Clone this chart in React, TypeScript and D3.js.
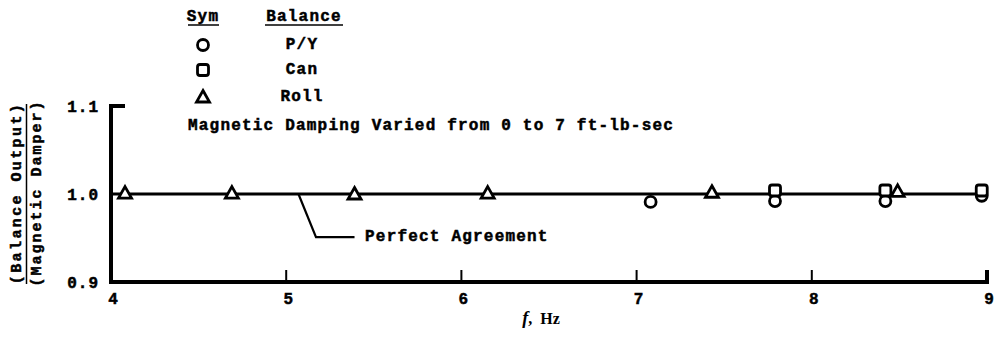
import React from "react";
import * as d3 from "d3";

const xTicks = [4, 5, 6, 7, 8, 9];
const yTicks = [0.9, 1.0, 1.1];
const yTickLabels = ["0.9", "1.0", "1.1"];

// Roll (triangles)
const rollF = [4.08, 4.69, 5.39, 6.15, 7.43, 8.49];
const rollR = [1.001, 1.001, 1.0, 1.001, 1.002, 1.003];
// P/Y (circles)
const pyF = [7.08, 7.79, 8.42, 8.97];
const pyR = [0.991, 0.992, 0.992, 0.998];
// Can (squares)
const canF = [7.79, 8.42, 8.97];
const canR = [1.004, 1.004, 1.004];

const legendSyms = ["circle", "square", "triangle"];
const legendNames = ["P/Y", "Can", "Roll"];

const W = 999;
const H = 337;
const FONT = "'Liberation Mono', 'DejaVu Sans Mono', monospace";

function Marker({ type, cx, cy }: { type: string; cx: number; cy: number }) {
  const common = { fill: "#fff", stroke: "#000", strokeWidth: 2.8 };
  if (type === "circle") return <circle cx={cx} cy={cy} r={5.5} {...common} />;
  if (type === "square")
    return <rect x={cx - 5.5} y={cy - 5.5} width={11} height={11} rx={2.5} {...common} />;
  const p = d3.path();
  p.moveTo(cx, cy - 6.5);
  p.lineTo(cx + 6.5, cy + 5);
  p.lineTo(cx - 6.5, cy + 5);
  p.closePath();
  return <path d={p.toString()} {...common} strokeLinejoin="miter" />;
}

export default function App() {
  const x = d3.scaleLinear().domain([4, 9]).range([111, 987]);
  const y = d3.scaleLinear().domain([0.9, 1.1]).range([282, 106]);

  const txt = {
    fontFamily: FONT,
    fontWeight: 700,
    fontSize: 16,
    letterSpacing: 1.2,
    fill: "#000",
    stroke: "#000",
    strokeWidth: 0.5,
  } as const;

  const lineGen = d3
    .line<[number, number]>()
    .x((d) => x(d[0]))
    .y((d) => y(d[1]));

  const leader = d3.path();
  leader.moveTo(x(5.07), y(1.0));
  leader.lineTo(x(5.17), y(0.951));
  leader.lineTo(x(5.39), y(0.951));

  return (
    <svg
      width={W}
      height={H}
      style={{ position: "absolute", left: 0, top: 0, background: "#fff" }}
    >
      <rect width={W} height={H} fill="#fff" />

      {/* Legend */}
      <text x={203} y={17} textAnchor="middle" dominantBaseline="central" {...txt}>
        Sym
      </text>
      <line x1={188} x2={219} y1={25} y2={25} stroke="#000" strokeWidth={1.5} />
      <text x={304} y={17} textAnchor="middle" dominantBaseline="central" {...txt}>
        Balance
      </text>
      <line x1={265} x2={343} y1={25} y2={25} stroke="#000" strokeWidth={1.5} />
      {legendSyms.map((s, i) => (
        <g key={s}>
          <Marker type={s} cx={203} cy={[45, 70, 97][i]} />
          <text
            x={302}
            y={[45, 70, 97][i]}
            textAnchor="middle"
            dominantBaseline="central"
            {...txt}
          >
            {legendNames[i]}
          </text>
        </g>
      ))}

      <text x={188} y={126} dominantBaseline="central" {...txt}>
        Magnetic Damping Varied from 0 to 7 ft-lb-sec
      </text>

      {/* Perfect agreement line */}
      <path
        d={lineGen([
          [4, 1.0],
          [9, 1.0],
        ]) as string}
        stroke="#000"
        strokeWidth={2.8}
        fill="none"
      />
      <path d={leader.toString()} stroke="#000" strokeWidth={2.2} fill="none" />
      <text x={x(5.45)} y={y(0.951)} dominantBaseline="central" {...txt}>
        Perfect Agreement
      </text>

      {/* Axes */}
      <path
        d={`M${x(4) + 14},${y(1.1)} L${x(4)},${y(1.1)} L${x(4)},${y(0.9)} L${x(9)},${y(0.9)} L${x(9)},${y(0.9) - 12}`}
        stroke="#000"
        strokeWidth={4}
        fill="none"
        strokeLinejoin="miter"
      />
      {xTicks.slice(1, -1).map((t) => (
        <line
          key={t}
          x1={x(t)}
          x2={x(t)}
          y1={y(0.9)}
          y2={y(0.9) - 12}
          stroke="#000"
          strokeWidth={2}
        />
      ))}
      {xTicks.map((t) => (
        <text
          key={t}
          x={x(t) + 2}
          y={300}
          textAnchor="middle"
          dominantBaseline="central"
          {...txt}
          letterSpacing={0}
        >
          {t}
        </text>
      ))}
      {yTicks.map((t, i) => (
        <text
          key={t}
          x={99}
          y={y(t) + 2}
          textAnchor="end"
          dominantBaseline="central"
          {...txt}
          letterSpacing={1}
        >
          {yTickLabels[i]}
        </text>
      ))}

      {/* Axis titles */}
      <g transform="translate(17,193) rotate(-90)">
        <text x={0} y={0} textAnchor="middle" dominantBaseline="central" {...txt} fontSize={15} letterSpacing={2.4}>
          (Balance Output)
        </text>
      </g>
      <line x1={26.5} x2={26.5} y1={104} y2={284} stroke="#000" strokeWidth={1.5} />
      <g transform="translate(37,193) rotate(-90)">
        <text x={0} y={0} textAnchor="middle" dominantBaseline="central" {...txt} fontSize={15} letterSpacing={2}>
          (Magnetic Damper)
        </text>
      </g>
      <text
        x={541}
        y={318}
        textAnchor="middle"
        dominantBaseline="central"
        fontFamily="'Liberation Serif', serif"
        fontWeight={700}
        fontSize={16}
        style={{ whiteSpace: "pre" }}
      >
        <tspan fontStyle="italic" fontSize={18}>f</tspan>
        {",\u00a0\u00a0Hz"}
      </text>

      {/* Data */}
      {rollF.map((f, i) => (
        <Marker key={"r" + i} type="triangle" cx={x(f)} cy={y(rollR[i])} />
      ))}
      {pyF.map((f, i) => (
        <Marker key={"p" + i} type="circle" cx={x(f)} cy={y(pyR[i])} />
      ))}
      {canF.map((f, i) => (
        <Marker key={"c" + i} type="square" cx={x(f)} cy={y(canR[i])} />
      ))}
    </svg>
  );
}
